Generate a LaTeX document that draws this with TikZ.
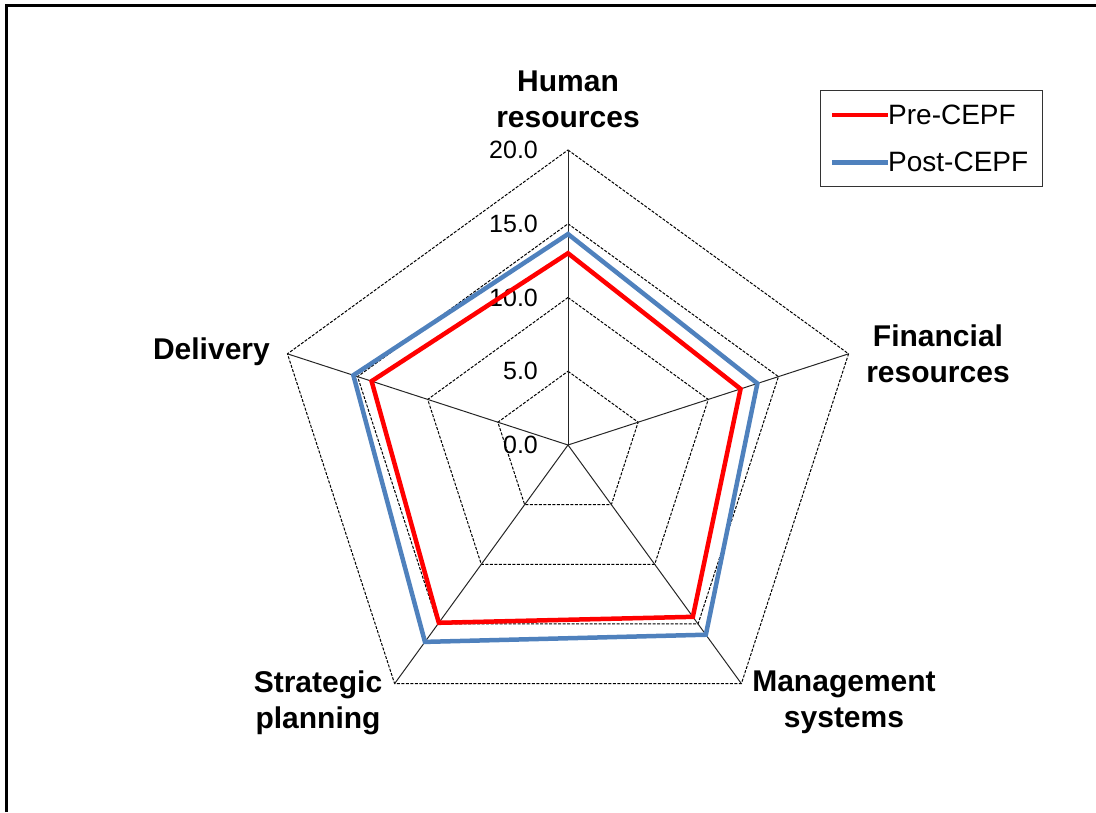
\documentclass[tikz,border=0pt]{standalone}
\usepackage{fontspec}
\setmainfont{Liberation Sans}
\definecolor{precepf}{RGB}{255,0,0}
\definecolor{postcepf}{RGB}{79,129,189}
\tikzset{
  ring/.style={black,line width=1pt,dash pattern=on 3pt off 1.5pt},
  spoke/.style={black!85,line width=1pt},
  axlabel/.style={font=\fontsize{30}{36}\selectfont\bfseries,align=center,inner sep=0pt},
  ticklabel/.style={font=\fontsize{25}{28}\selectfont,anchor=east,inner sep=0pt},
  pre/.style={precepf,line width=4.5pt},
  post/.style={postcepf,line width=4.5pt},
  legtext/.style={font=\fontsize{28}{32}\selectfont,anchor=base west,inner sep=0pt}
}
\begin{document}
\begin{tikzpicture}[x=1pt,y=1pt]
            \useasboundingbox (0,0) rectangle (1096,812);
            \draw[line width=2.5pt] (6.5,0) -- (6.5,806.5) -- (1096,806.5);
            \begin{scope}[shift={(568,367)},x=14.75pt,y=14.75pt]
            \coordinate (O) at (0,0);
            \foreach \r in {5,10,15,20}
                \draw[ring] (90:\r) -- (18:\r) -- (-54:\r) -- (-126:\r) -- (162:\r) -- cycle;
            \foreach \a in {90,18,-54,-126,162}
                \draw[spoke] (O) -- (\a:20);
            \foreach \v in {0,5,10,15,20}
                \node[ticklabel] (t\v) at (-2.03,\v) {\v.0};
            \draw[post] (90:14.3) -- (18:13.5) -- (-54:15.9) -- (-126:16.5) -- (162:15.3) -- cycle;
            \draw[pre] (90:13.0) -- (18:12.3) -- (-54:14.4) -- (-126:14.9) -- (162:14.0) -- cycle;
            \end{scope}
            \node[axlabel,anchor=north] (hr) at (568,741.3) {Human\\resources};
            \node[axlabel,anchor=north] (fr) at (938,487) {Financial\\resources};
            \node[axlabel,anchor=north] (ms) at (844,141.3) {Management\\systems};
            \node[axlabel,anchor=north] (sp) at (318,141.3) {Strategic\\planning};
            \node[axlabel,anchor=base east] (dl) at (270,452) {Delivery};
            \draw[black!80,line width=1pt] (820,721.3) rectangle (1042.7,625.3);
            \node[legtext] (lpre) at (888,687) {Pre-CEPF};
            \node[legtext] (lpost) at (888,640) {Post-CEPF};
            \coordinate (kpre) at (832,697);
            \coordinate (kpost) at (832,649.3);
            \draw[pre] (kpre) -- (lpre.west |- kpre);
            \draw[post] (kpost) -- (lpost.west |- kpost);
        \end{tikzpicture}
\end{document}
